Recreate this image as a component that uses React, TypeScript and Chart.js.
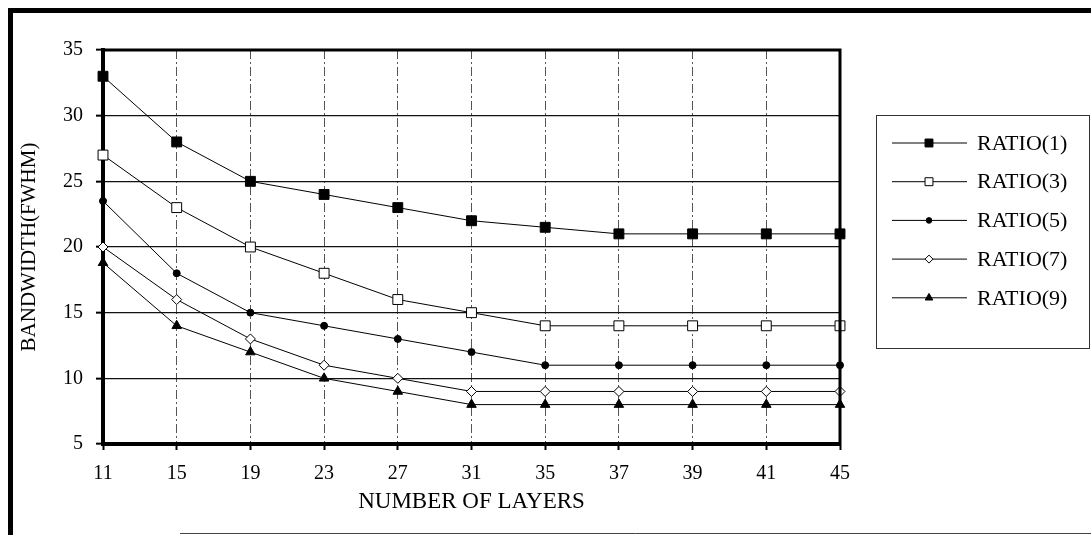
import React, { useEffect, useRef } from 'react';
import { Chart, registerables } from 'chart.js';

Chart.register(...registerables);

const layers = ['11', '15', '19', '23', '27', '31', '35', '37', '39', '41', '45'];
const ratio1 = [33, 28, 25, 24, 23, 22, 21.5, 21, 21, 21, 21];
const ratio3 = [27, 23, 20, 18, 16, 15, 14, 14, 14, 14, 14];
const ratio5 = [23.5, 18, 15, 14, 13, 12, 11, 11, 11, 11, 11];
const ratio7 = [20, 16, 13, 11, 10, 9, 9, 9, 9, 9, 9];
const ratio9 = [18.8, 14, 12, 10, 9, 8, 8, 8, 8, 8, 8];
const seriesNames = ['RATIO(1)', 'RATIO(3)', 'RATIO(5)', 'RATIO(7)', 'RATIO(9)'];
const yMin = 5;
const yMax = 35;
const yStep = 5;
const xTitle = 'NUMBER OF LAYERS';
const yTitle = 'BANDWIDTH(FWHM)';

const FONT = '"Liberation Serif", "Times New Roman", serif';

function drawMarker(ctx: CanvasRenderingContext2D, style: string, x: number, y: number, r: number, fill: string, stroke: string) {
  ctx.save();
  ctx.fillStyle = fill;
  ctx.strokeStyle = stroke;
  ctx.lineWidth = 1;
  ctx.beginPath();
  if (style === 'rect') {
    const s = Math.SQRT1_2 * r;
    ctx.rect(x - s, y - s, 2 * s, 2 * s);
  } else if (style === 'rectRot') {
    ctx.moveTo(x, y - r);
    ctx.lineTo(x + r, y);
    ctx.lineTo(x, y + r);
    ctx.lineTo(x - r, y);
    ctx.closePath();
  } else if (style === 'triangle') {
    for (let i = 0; i < 3; i++) {
      const a = (i * 2 * Math.PI) / 3;
      const px = x + Math.sin(a) * r;
      const py = y - Math.cos(a) * r;
      if (i === 0) ctx.moveTo(px, py);
      else ctx.lineTo(px, py);
    }
    ctx.closePath();
  } else {
    ctx.arc(x, y, r, 0, Math.PI * 2);
  }
  ctx.fill();
  ctx.stroke();
  ctx.restore();
}

const framePlugin = {
  id: 'framePlugin',
  afterDraw(chart: any) {
    const ctx: CanvasRenderingContext2D = chart.ctx;
    const { left, top, right, bottom } = chart.chartArea;
    ctx.save();
    // outer page frame
    ctx.fillStyle = '#000';
    ctx.fillRect(8, 8, chart.width - 8, 5);
    ctx.fillRect(8, 8, 5, chart.height - 8);
    ctx.strokeStyle = '#444';
    ctx.lineWidth = 1;
    ctx.beginPath();
    ctx.moveTo(180, 533.5);
    ctx.lineTo(chart.width, 533.5);
    ctx.stroke();
    // plot frame top/right
    ctx.strokeStyle = '#000';
    ctx.lineWidth = 3;
    ctx.beginPath();
    ctx.moveTo(left - 2, top);
    ctx.lineTo(right, top);
    ctx.lineTo(right, bottom + 2);
    ctx.stroke();

    // legend
    const bx = 876.5, by = 115.5, bw = 213, bh = 233;
    ctx.strokeStyle = '#333';
    ctx.lineWidth = 1;
    ctx.strokeRect(bx, by, bw, bh);
    const datasets = chart.data.datasets;
    ctx.font = '22px ' + FONT;
    ctx.textBaseline = 'middle';
    ctx.textAlign = 'left';
    datasets.forEach((ds: any, i: number) => {
      const y = 143 + i * 38.7;
      ctx.strokeStyle = '#000';
      ctx.lineWidth = 1;
      ctx.beginPath();
      ctx.moveTo(892, y);
      ctx.lineTo(967, y);
      ctx.stroke();
      drawMarker(ctx, ds.pointStyle, 929, y, ds.pointRadius * 0.8, ds.pointBackgroundColor, ds.pointBorderColor);
      ctx.fillStyle = '#000';
      ctx.fillText(ds.label, 977, y + 1);
    });
    ctx.restore();
  },
};

const styles = [
  { pointStyle: 'rect', pointRadius: 7, fill: '#000' },
  { pointStyle: 'rect', pointRadius: 7, fill: '#fff' },
  { pointStyle: 'circle', pointRadius: 3.5, fill: '#000' },
  { pointStyle: 'rectRot', pointRadius: 5, fill: '#fff' },
  { pointStyle: 'triangle', pointRadius: 5.5, fill: '#000' },
];

export default function App() {
  const ref = useRef<HTMLCanvasElement | null>(null);

  useEffect(() => {
    if (!ref.current) return;
    const series = [ratio1, ratio3, ratio5, ratio7, ratio9];
    const chart = new Chart(ref.current, {
      type: 'line',
      data: {
        labels: layers,
        datasets: series.map((d, i) => ({
          label: seriesNames[i],
          data: d,
          borderColor: '#000',
          borderWidth: 1,
          tension: 0,
          pointStyle: styles[i].pointStyle as any,
          pointRadius: styles[i].pointRadius,
          pointHoverRadius: styles[i].pointRadius,
          pointBackgroundColor: styles[i].fill,
          pointBorderColor: '#000',
          pointBorderWidth: 1,
          clip: false as any,
        })),
      },
      options: {
        responsive: false,
        animation: false,
        events: [],
        layout: { padding: { left: 0, top: 50, right: 251, bottom: 0 } },
        plugins: {
          legend: { display: false },
          tooltip: { enabled: false },
          title: { display: false },
        },
        scales: {
          x: {
            type: 'category',
            offset: false,
            afterFit: (scale: any) => {
              scale.height = 91;
            },
            grid: {
              offset: false,
              color: '#555',
              lineWidth: 1,
              tickColor: '#000',
              tickLength: 6,
              tickWidth: 2,
            },
            border: { display: true, color: '#000', width: 4, dash: [9, 3, 2, 3] },
            ticks: {
              color: '#000',
              font: { family: FONT, size: 20 },
              padding: 12,
              maxRotation: 0,
              autoSkip: false,
            },
            title: {
              display: true,
              text: xTitle,
              color: '#000',
              font: { family: FONT, size: 23 },
              padding: { top: 0, bottom: 19 },
            },
          },
          y: {
            type: 'linear',
            min: yMin,
            max: yMax,
            afterFit: (scale: any) => {
              scale.width = 103;
            },
            grid: {
              color: '#111',
              lineWidth: 1.3,
              tickColor: '#000',
              tickLength: 7,
              tickWidth: 2,
            },
            border: { display: true, color: '#000', width: 4 },
            ticks: {
              stepSize: yStep,
              color: '#000',
              font: { family: FONT, size: 20 },
              padding: 13,
            },
            title: {
              display: true,
              text: yTitle,
              color: '#000',
              font: { family: FONT, size: 21 },
              padding: { top: 17, bottom: 0 },
            },
          },
        },
      },
      plugins: [framePlugin],
    });
    return () => chart.destroy();
  }, []);

  return (
    <div style={{ position: 'fixed', left: 0, top: 0, width: 1091, height: 535, background: '#fff' }}>
      <canvas ref={ref} width={1091} height={535} style={{ display: 'block' }} />
    </div>
  );
}
